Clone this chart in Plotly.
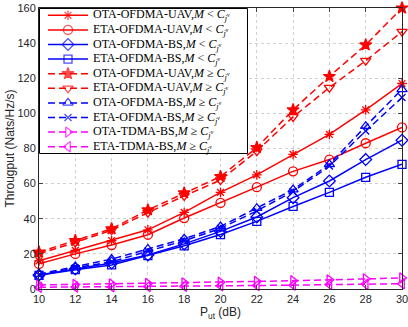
import plotly.graph_objects as go

x_vals = [10, 12, 14, 16, 18, 20, 22, 24, 26, 28, 30]
x_ticks = [10, 12, 14, 16, 18, 20, 22, 24, 26, 28, 30]
y_ticks = [0, 20, 40, 60, 80, 100, 120, 140, 160]

ota_uav_lt = [16, 22, 27.6, 33.7, 43.6, 55, 65, 76.6, 88, 102, 117]
eta_uav_lt = [14.3, 20, 25, 30.9, 40.4, 49, 58, 67, 73.7, 83, 92]
ota_bs_lt = [8, 11.4, 14.8, 19.4, 25.7, 32.8, 41, 52, 61.5, 73.7, 84.7]
eta_bs_lt = [7.8, 11, 13.7, 19, 24.6, 31, 38.5, 47, 55, 63.6, 71]
ota_uav_ge = [21, 27.6, 34.3, 45, 54.7, 64, 80.5, 102, 121, 139, 160]
eta_uav_ge = [20, 26.5, 33.5, 43.5, 53, 62, 78.5, 98, 114.7, 130, 146.5]
ota_bs_ge = [8.5, 12.8, 17, 22.8, 28.6, 35.6, 46, 56.6, 71, 92.7, 113.7]
eta_bs_ge = [8, 12, 15.5, 21.5, 27.5, 34.5, 44.5, 55.5, 70, 90, 109]
ota_tdma_ge = [2.3, 2.6, 2.9, 3.2, 3.5, 3.9, 4.3, 4.7, 5.2, 5.7, 6.3]
eta_tdma_ge = [1.0, 1.1, 1.2, 1.4, 1.6, 1.8, 2.0, 2.2, 2.5, 2.7, 3.0]

LT = "<i>M</i> &lt; <i>C</i><sub><i>j</i><sup><i>v</i></sup></sub>"
GE = "<i>M</i> \u2265 <i>C</i><sub><i>j</i><sup><i>v</i></sup></sub>"

RED, BLUE, MAG = "#ff0000", "#0000ff", "#ff00ff"

series = [
    ("OTA-OFDMA-UAV," + LT, ota_uav_lt, RED, "solid", "asterisk-open", 8),
    ("ETA-OFDMA-UAV," + LT, eta_uav_lt, RED, "solid", "circle-open", 9),
    ("OTA-OFDMA-BS," + LT, ota_bs_lt, BLUE, "solid", "diamond-open", 9),
    ("ETA-OFDMA-BS," + LT, eta_bs_lt, BLUE, "solid", "square-open", 8),
    ("OTA-OFDMA-UAV," + GE, ota_uav_ge, RED, "dash", "star", 9),
    ("ETA-OFDMA-UAV," + GE, eta_uav_ge, RED, "dash", "triangle-down-open", 9),
    ("OTA-OFDMA-BS," + GE, ota_bs_ge, BLUE, "dash", "triangle-up-open", 9),
    ("ETA-OFDMA-BS," + GE, eta_bs_ge, BLUE, "dash", "x-thin-open", 7),
    ("OTA-TDMA-BS," + GE, ota_tdma_ge, MAG, "dash", "triangle-right-open", 9),
    ("ETA-TDMA-BS," + GE, eta_tdma_ge, MAG, "dash", "triangle-left-open", 9),
]

DASH = "7px,4px"

fig = go.Figure()
for name, ys, col, dash, sym, sz in series:
    fig.add_trace(go.Scatter(
        x=x_vals, y=ys, mode="lines+markers", name=name, showlegend=False,
        line=dict(color=col, width=1.5, dash=DASH if dash == "dash" else "solid"),
        marker=dict(symbol=sym, size=sz, color=col, line=dict(color=col, width=1.3)),
        xaxis="x", yaxis="y", cliponaxis=False,
    ))

# custom legend drawn in a helper subplot (pixel-like units)
W, H = 209, 146
fig.add_trace(go.Scatter(
    x=[0.5, W - 0.5, W - 0.5, 0.5, 0.5], y=[0.5, 0.5, H - 0.5, H - 0.5, 0.5],
    mode="lines", fill="toself", fillcolor="white",
    line=dict(color="black", width=1), showlegend=False, hoverinfo="skip",
    xaxis="x2", yaxis="y2",
))
row_h = H / len(series)
annotations = []
for i, (name, ys, col, dash, sym, sz) in enumerate(series):
    yc = row_h * (i + 0.5)
    fig.add_trace(go.Scatter(
        x=[9, 29, 49], y=[yc, yc, yc], mode="lines+markers", showlegend=False,
        hoverinfo="skip",
        line=dict(color=col, width=1.5, dash=DASH if dash == "dash" else "solid"),
        marker=dict(symbol=sym, size=[0, sz, 0], color=col,
                    line=dict(color=col, width=1.3)),
        xaxis="x2", yaxis="y2",
    ))
    annotations.append(dict(
        x=52, y=yc, xref="x2", yref="y2", text=name, showarrow=False,
        xanchor="left", yanchor="middle",
        font=dict(family="Liberation Serif", size=12, color="black"),
    ))

L, R, T, B = 39, 6, 8, 38
FW, FH = 408, 327
pw, ph = FW - L - R, FH - T - B

fig.update_layout(
    width=FW, height=FH,
    margin=dict(l=L, r=R, t=T, b=B, autoexpand=False),
    paper_bgcolor="white", plot_bgcolor="white",
    font=dict(family="Liberation Sans", size=11, color="#262626"),
    xaxis=dict(
        range=[10, 30], tickvals=x_ticks, ticks="inside", ticklen=4,
        showline=True, linecolor="#262626", linewidth=1, mirror="ticks",
        showgrid=True, gridcolor="#d0d0d0", griddash="dot", gridwidth=1,
        zeroline=False, tickfont=dict(size=11), automargin=False,
        ticklabeloverflow="allow",
        title=dict(text="P<sub>ut</sub> (dB)", font=dict(size=12), standoff=2),
    ),
    yaxis=dict(
        range=[0, 160], tickvals=y_ticks, ticks="inside", ticklen=4,
        showline=True, linecolor="#262626", linewidth=1, mirror="ticks",
        showgrid=True, gridcolor="#d0d0d0", griddash="dot", gridwidth=1,
        zeroline=False, tickfont=dict(size=11), automargin=False,
        ticklabeloverflow="allow",
        title=dict(text="Througput (Nats/Hz/s)", font=dict(size=12), standoff=0),
    ),
    xaxis2=dict(domain=[0, W / pw], range=[0, W], visible=False, anchor="y2",
                fixedrange=True),
    yaxis2=dict(domain=[1 - H / ph, 1], range=[H, 0], visible=False, anchor="x2",
                fixedrange=True),
    annotations=annotations,
    showlegend=False,
)

fig.write_html(
    "out.html",
    config={"displayModeBar": False},
    post_script="document.body.style.margin='0';document.body.style.padding='0';",
)
